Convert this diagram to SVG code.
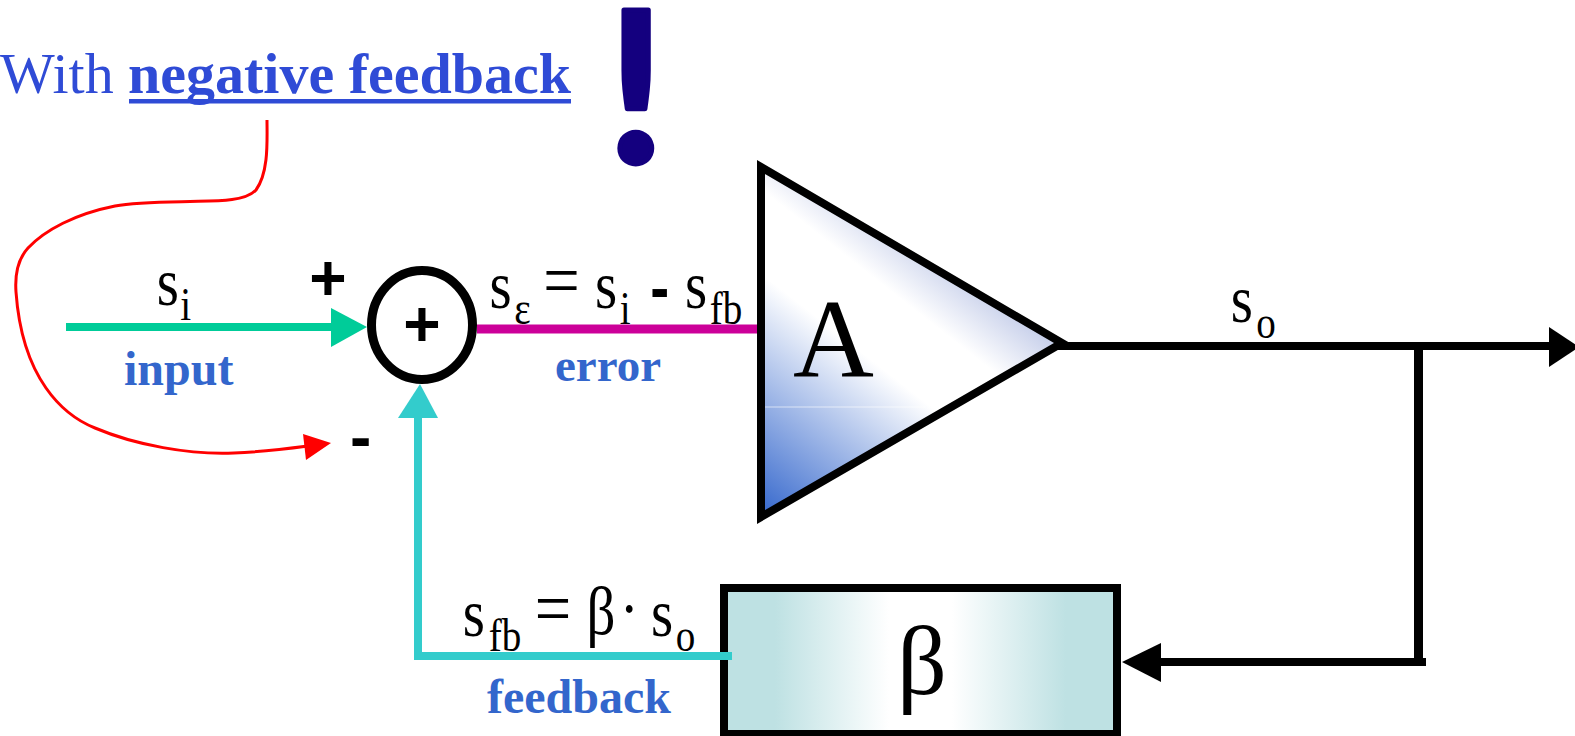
<svg xmlns="http://www.w3.org/2000/svg" width="1575" height="736" viewBox="0 0 1575 736">
<style>
.serif{font-family:"Liberation Serif","Times New Roman",serif;fill:#000}
.sans{font-family:"Liberation Sans",Arial,sans-serif;font-weight:bold;fill:#000}
.sym{font-size:67px}
.sub{font-size:46px}
.eq{font-size:76px}
.lbl{font-family:"Liberation Serif","Times New Roman",serif;font-weight:bold;font-size:48px;fill:#3366cc}
.title{font-family:"Liberation Serif","Times New Roman",serif;font-size:58px;fill:#2f4bd6}
.wire{fill:none;stroke-linecap:butt}
</style>
<defs>
<linearGradient id="ampFill" gradientUnits="userSpaceOnUse" x1="761" y1="517" x2="965" y2="257">
<stop offset="0" stop-color="#3366cc"/><stop offset="0.58" stop-color="#ffffff"/><stop offset="0.78" stop-color="#ffffff"/><stop offset="1" stop-color="#bcc6e6"/>
</linearGradient>
<linearGradient id="betaFill" x1="0" y1="0" x2="1" y2="0">
<stop offset="0" stop-color="#bee1e3"/><stop offset="0.13" stop-color="#bee1e3"/><stop offset="0.42" stop-color="#ffffff"/><stop offset="0.58" stop-color="#ffffff"/><stop offset="0.87" stop-color="#bee1e3"/><stop offset="1" stop-color="#bee1e3"/>
</linearGradient>
</defs>
<rect width="1575" height="736" fill="#ffffff"/>

<g id="title">
<text class="title" y="93"><tspan x="0">With </tspan><tspan x="128" font-weight="bold">negative feedback</tspan></text>
<rect x="129" y="99" width="442" height="4.500" fill="#2f4bd6"/>
<text x="636" y="163" text-anchor="middle" font-family="Lato, Liberation Sans, sans-serif" font-weight="bold" font-size="210" fill="#14007f" stroke="#14007f" stroke-width="5" stroke-linejoin="round">!</text>
</g>

<g id="beta-block">
<rect x="724" y="588" width="393" height="146" fill="url(#betaFill)" stroke="#000" stroke-width="8"/>
<text class="serif" x="897" y="694" font-size="98">β</text>
</g>

<g id="connectors">
<path class="wire" d="M66 327H331" stroke="#00cc99" stroke-width="8"/>
<polygon points="331,308 367,327 331,347" fill="#00cc99"/>
<path class="wire" d="M477 329H757" stroke="#cc0099" stroke-width="9"/>
<path class="wire" d="M732 656H418V418" stroke="#33cccc" stroke-width="8"/>
<polygon points="420,384 438,418 398,418" fill="#33cccc"/>
<path class="wire" d="M1056 346H1549" stroke="#000" stroke-width="8"/>
<polygon points="1549,327 1579,347 1549,367" fill="#000"/>
<path class="wire" d="M1418.500 346V662" stroke="#000" stroke-width="9"/>
<path class="wire" d="M1426 662H1160" stroke="#000" stroke-width="8"/>
<polygon points="1122,662 1161,643 1161,682" fill="#000"/>
<path class="wire" d="M267 120C267 140 269 172 256 190C245 202 215 201 190 201.500C160 202 135 202 115 206C75 214 45 230 28 248C17 260 15 278 16 292C18 320 25 358 46 388C60 408 75 420 95 428C135 445 190 455 234 453C260 452 285 449 308 446" stroke="#ff0000" stroke-width="3"/>
<polygon points="331,443 303,434 306,460" fill="#ff0000"/>
</g>

<g id="summer">
<ellipse cx="422" cy="325" rx="50.500" ry="54.500" fill="#ffffff" stroke="#000" stroke-width="9"/>
<text class="sans" x="422" y="346" text-anchor="middle" font-size="64">+</text>
</g>

<g id="amplifier">
<polygon points="761,167 1062,343 761,517" fill="url(#ampFill)" stroke="#000" stroke-width="8"/>
<path d="M765 407H925" stroke="#ffffff" stroke-opacity="0.6" stroke-width="1.200"/>
<text class="serif" x="793" y="377" font-size="112">A</text>
</g>

<g id="labels">
<text class="sans" x="328" y="300" text-anchor="middle" font-size="64">+</text>
<text class="sans" x="350" y="459" font-size="64">-</text>
<text class="serif" transform="scale(.85 1)"><tspan class="sym" x="184.500" y="305">s</tspan><tspan class="sub" x="212" y="320">i</tspan></text>
<text class="lbl" x="124" y="385">input</text>
<text class="serif" transform="scale(.85 1)"><tspan class="sym" x="576" y="308">s</tspan><tspan class="sub" x="605" y="324">ε </tspan><tspan class="eq" x="639" y="306">= </tspan><tspan class="sym" x="700" y="308">s</tspan><tspan class="sub" x="729" y="324">i </tspan><tspan class="sym" x="765" y="310" font-family="Liberation Sans, Arial, sans-serif" font-weight="bold">- </tspan><tspan class="sym" x="806" y="308">s</tspan><tspan class="sub" x="835" y="324">fb</tspan></text>
<text class="lbl" x="555" y="381" style="font-size:47px">error</text>
<text class="serif" transform="scale(.85 1)"><tspan class="sym" x="1448" y="322">s</tspan><tspan class="sub" x="1478" y="338">o</tspan></text>
<text class="serif" transform="scale(.85 1)"><tspan class="sym" x="544.500" y="636">s</tspan><tspan class="sub" x="575" y="651">fb </tspan><tspan class="eq" x="629" y="634">= </tspan><tspan class="sym" x="690" y="634">β</tspan><tspan class="sym" x="729" y="631">· </tspan><tspan class="sym" x="766" y="636">s</tspan><tspan class="sub" x="795" y="651">o</tspan></text>
<text class="lbl" x="487" y="713">feedback</text>
</g>
</svg>
